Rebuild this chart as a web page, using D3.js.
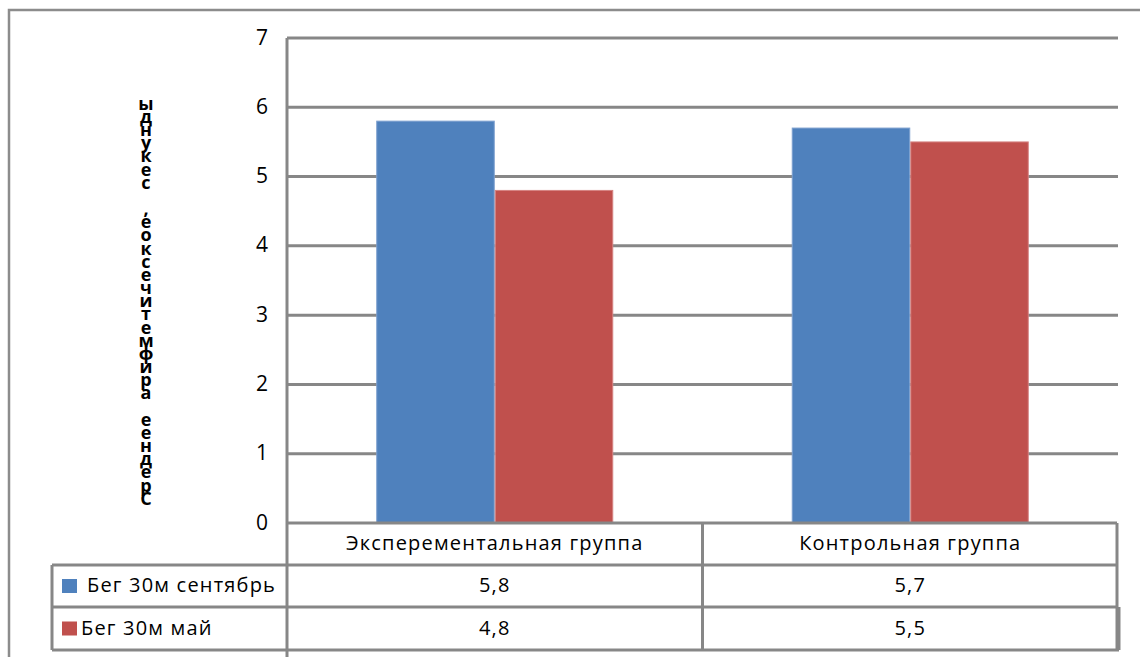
<!DOCTYPE html>
<html>
<head>
<meta charset="utf-8">
<script src="https://cdn.jsdelivr.net/npm/d3@7"></script>
<style>
  html, body { margin: 0; padding: 0; background: #fff; }
  svg { display: block; }
  text { font-family: "Open Sans", "Noto Sans", sans-serif; fill: #000; }
</style>
</head>
<body>
<script>
// ---- data ----
const categories = ["Эксперементальная группа", "Контрольная группа"];
const seriesNames = ["Бег 30м сентябрь", "Бег 30м май"];
const septValues = [5.8, 5.7];
const mayValues = [4.8, 5.5];
const valueLabels = [["5,8", "5,7"], ["4,8", "5,5"]];
const yTicks = [0, 1, 2, 3, 4, 5, 6, 7];
const yTitle = "Среднее арифметическое, секунды";
const colors = ["#4F81BD", "#C0504D"];
const edgeColors = ["#7DA0CF", "#D58482"];

const W = 1140, H = 657;
const gridColor = "#878787";

const svg = d3.select("body").append("svg").attr("width", W).attr("height", H);

// outer chart frame (cut by the picture edges)
svg.append("path")
  .attr("d", `M9,${H + 5} L9,10 L${W + 5},10`)
  .attr("fill", "none").attr("stroke", "#8c8c8c").attr("stroke-width", 2.5);

const plotLeft = 287, plotRight = 1118, plotTop = 38, plotBottom = 523;

const y = d3.scaleLinear().domain([0, 7]).range([plotBottom, plotTop]);
const x0 = d3.scaleBand().domain(categories).range([plotLeft, plotRight]).padding(0);
const x1 = d3.scaleBand().domain(seriesNames).range([0, x0.bandwidth()]).paddingInner(0).paddingOuter(0.753);

// gridlines
svg.append("g").selectAll("line").data(yTicks.filter(d => d > 0)).join("line")
  .attr("x1", plotLeft).attr("x2", plotRight)
  .attr("y1", d => y(d)).attr("y2", d => y(d))
  .attr("stroke", gridColor).attr("stroke-width", 3);

// tick labels
svg.append("g").selectAll("text").data(yTicks).join("text")
  .attr("x", 268).attr("y", d => y(d) + 1)
  .attr("text-anchor", "end").attr("dominant-baseline", "middle")
  .attr("font-size", 21)
  .text(d => d);

// bars
const series = [septValues, mayValues];
series.forEach((vals, si) => {
  svg.append("g").selectAll("rect").data(vals).join("rect")
    .attr("x", (d, i) => x0(categories[i]) + x1(seriesNames[si]) + 0.5)
    .attr("width", x1.bandwidth() - 1)
    .attr("y", d => y(d))
    .attr("height", d => plotBottom - y(d))
    .attr("fill", colors[si])
    .attr("stroke", edgeColors[si]).attr("stroke-width", 1);
});

// data table
const rowTop = [plotBottom, 565, 607, 650];
const tableLeft = 52, tableRight = 1117;
const tg = svg.append("g").attr("stroke", gridColor).attr("stroke-width", 3).attr("fill", "none");
tg.append("line").attr("x1", plotLeft).attr("x2", tableRight).attr("y1", rowTop[0]).attr("y2", rowTop[0]);
[1, 2, 3].forEach(r => {
  tg.append("line").attr("x1", tableLeft).attr("x2", r === 3 ? tableRight + 2 : tableRight)
    .attr("y1", rowTop[r]).attr("y2", rowTop[r]);
});
tg.append("line").attr("x1", plotLeft).attr("x2", plotLeft).attr("y1", plotTop).attr("y2", rowTop[3] + 10);
tg.append("line").attr("x1", tableLeft).attr("x2", tableLeft).attr("y1", rowTop[1]).attr("y2", rowTop[3]);
categories.forEach(c => {
  const xr = x0(c) + x0.bandwidth();
  const xx = Math.min(xr, tableRight);
  tg.append("line").attr("x1", xx).attr("x2", xx).attr("y1", rowTop[0]).attr("y2", rowTop[3]);
});
tg.append("line").attr("x1", tableRight + 2).attr("x2", tableRight + 2).attr("y1", rowTop[2]).attr("y2", rowTop[3]);

const tableFont = 20, tableSpacing = 1.2;

// header category labels
svg.append("g").selectAll("text").data(categories).join("text")
  .attr("x", d => x0(d) + x0.bandwidth() / 2)
  .attr("y", (rowTop[0] + rowTop[1]) / 2 + 1)
  .attr("text-anchor", "middle").attr("dominant-baseline", "middle")
  .attr("font-size", tableFont).attr("letter-spacing", tableSpacing)
  .text(d => d);

// rows
seriesNames.forEach((s, si) => {
  const cy = (rowTop[si + 1] + rowTop[si + 2]) / 2;
  svg.append("rect").attr("x", 62).attr("y", cy - 7).attr("width", 15).attr("height", 14).attr("fill", colors[si]);
  svg.append("text").attr("x", si === 0 ? 87 : 81).attr("y", cy + 1)
    .attr("dominant-baseline", "middle")
    .attr("font-size", tableFont).attr("letter-spacing", tableSpacing).text(s);
  svg.append("g").selectAll("text").data(valueLabels[si]).join("text")
    .attr("x", (d, i) => x0(categories[i]) + x0.bandwidth() / 2)
    .attr("y", cy + 1)
    .attr("text-anchor", "middle").attr("dominant-baseline", "middle")
    .attr("font-size", tableFont).attr("letter-spacing", tableSpacing)
    .text(d => d);
});

// y-axis title: stacked characters, read bottom to top
const chars = Array.from(yTitle);
const yTop = 105, yBot = 500;
const step = (yBot - yTop) / (chars.length - 1);
svg.append("g").selectAll("text").data(chars).join("text")
  .attr("x", 146)
  .attr("y", (d, i) => yBot - i * step)
  .attr("text-anchor", "middle").attr("dominant-baseline", "middle")
  .attr("font-size", 18).attr("font-weight", "bold")
  .text(d => d);
</script>
</body>
</html>
